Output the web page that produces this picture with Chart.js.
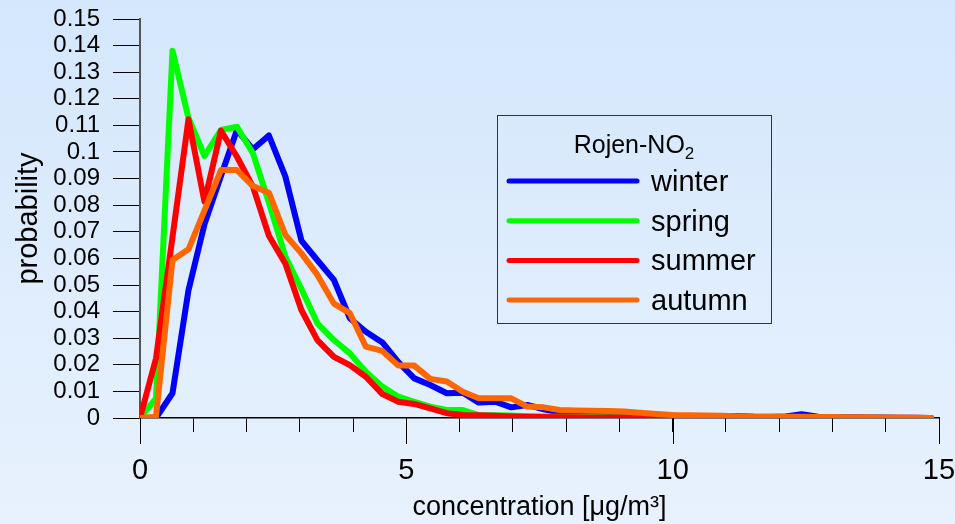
<!DOCTYPE html>
<html>
<head>
<meta charset="utf-8">
<script src="https://cdn.jsdelivr.net/npm/chart.js@4.4.1/dist/chart.umd.min.js"></script>
<style>
  body { margin: 0; background: #e4f0fd; }
  canvas { display: block; }
</style>
</head>
<body>
<canvas id="myChart" width="955" height="524"></canvas>
<script>
const ctx = document.getElementById('myChart');

// concentration bins [µg/m3]
const conc = [0, 0.30, 0.61, 0.91, 1.21, 1.52, 1.82, 2.12, 2.42, 2.73,
  3.03, 3.33, 3.64, 3.94, 4.24, 4.55, 4.85, 5.15, 5.45, 5.76,
  6.06, 6.36, 6.67, 6.97, 7.27, 7.58, 7.88, 8.18, 8.48, 8.79,
  9.09, 9.39, 9.70, 10.00, 10.30, 10.61, 10.91, 11.21, 11.52, 11.82,
  12.12, 12.42, 12.73, 13.03, 13.33, 13.64, 13.94, 14.24, 14.55, 14.85];

const winter = [0, 0, 0.0093, 0.048, 0.0728, 0.091, 0.1083, 0.101, 0.1062, 0.0907,
  0.0667, 0.0593, 0.0519, 0.0375, 0.0324, 0.0284, 0.021, 0.0149, 0.0124, 0.0093,
  0.0095, 0.0058, 0.0061, 0.004, 0.0049, 0.0033, 0.002, 0.0016, 0.0014, 0.0012,
  0.001, 0.0009, 0.0008, 0.0008, 0.0006, 0.0006, 0.0005, 0.0008, 0.0005, 0.0004,
  0.0006, 0.0014, 0.0005, 0.0003, 0.0003, 0.0002, 0.0002, 0.0001, 0.0001, 0];

const spring = [0, 0.0074, 0.1381, 0.1128, 0.0985, 0.1083, 0.1095, 0.0995, 0.081, 0.0606,
  0.0485, 0.0356, 0.0293, 0.0243, 0.0174, 0.0118, 0.008, 0.0061, 0.0043, 0.003,
  0.003, 0.0011, 0.001, 0.0009, 0.0007, 0.0006, 0.0005, 0.0004, 0.0004, 0.0003,
  0.0003, 0.0002, 0.0002, 0.0002, 0.0001, 0.0001, 0.0001, 0.0001, 0.0001, 0,
  0, 0, 0, 0, 0, 0, 0, 0, 0, 0];

const summer = [0, 0.0224, 0.068, 0.1123, 0.0813, 0.108, 0.0982, 0.087, 0.0685, 0.058,
  0.0406, 0.0293, 0.023, 0.0199, 0.0155, 0.009, 0.0061, 0.0053, 0.0036, 0.0018,
  0.0011, 0.001, 0.0008, 0.0006, 0.0005, 0.0004, 0.0003, 0.0003, 0.0002, 0.0002,
  0.0002, 0.0001, 0.0001, 0.0001, 0.0001, 0, 0, 0, 0, 0,
  0, 0, 0, 0, 0, 0, 0, 0, 0, 0];

const autumn = [0, 0.0005, 0.0594, 0.0634, 0.078, 0.0932, 0.0932, 0.0872, 0.0847, 0.0688,
  0.0619, 0.0538, 0.043, 0.0394, 0.0268, 0.0252, 0.0197, 0.0197, 0.0147, 0.0137,
  0.0099, 0.0074, 0.0074, 0.0074, 0.0043, 0.004, 0.003, 0.0028, 0.0027, 0.0026,
  0.0024, 0.002, 0.0015, 0.0011, 0.001, 0.0009, 0.0008, 0.0007, 0.0006, 0.0006,
  0.0005, 0.0005, 0.0004, 0.0004, 0.0003, 0.0003, 0.0002, 0.0002, 0.0001, 0];

const seasons = ['winter', 'spring', 'summer', 'autumn'];
const colors = ['#0000ff', '#00ff00', '#ff0000', '#ff6600'];
const xTicks = [0, 5, 10, 15];
const yTicks = ['0', '0.01', '0.02', '0.03', '0.04', '0.05', '0.06', '0.07',
  '0.08', '0.09', '0.1', '0.11', '0.12', '0.13', '0.14', '0.15'];
const legendTitle = 'Rojen-NO';

const FONT = "'Liberation Sans', Arial, sans-serif";

const toPoints = arr => arr.map((v, i) => ({x: conc[i], y: v}));

const background = {
    id: 'background',
    beforeDraw(chart) {
        const c = chart.ctx;
        const g = c.createLinearGradient(0, 0, 0, chart.height);
        g.addColorStop(0, '#d4e7fc');
        g.addColorStop(1, '#e8f2fe');
        c.save();
        c.fillStyle = g;
        c.fillRect(0, 0, chart.width, chart.height);
        c.restore();
    }
};

// longer tick marks for the labelled x values
const majorTicks = {
    id: 'majorTicks',
    afterDraw(chart) {
        const c = chart.ctx;
        const x = chart.scales.x;
        const b = chart.chartArea.bottom;
        c.save();
        c.strokeStyle = '#000';
        c.lineWidth = 1;
        xTicks.forEach(v => {
            const px = Math.round(x.getPixelForValue(v)) + 0.5;
            c.beginPath();
            c.moveTo(px, b);
            c.lineTo(px, b + 26);
            c.stroke();
        });
        c.restore();
    }
};

const legendBox = {
    id: 'legendBox',
    afterDraw(chart) {
        const c = chart.ctx;
        c.save();
        c.strokeStyle = '#333';
        c.lineWidth = 1;
        c.strokeRect(497.5, 115.5, 274, 208);

        c.fillStyle = '#000';
        c.textBaseline = 'alphabetic';
        c.font = '25px ' + FONT;
        const w1 = c.measureText(legendTitle).width;
        c.font = '17px ' + FONT;
        const w2 = c.measureText('2').width;
        const tx = 634 - (w1 + w2) / 2;
        c.font = '25px ' + FONT;
        c.fillText(legendTitle, tx, 153);
        c.font = '17px ' + FONT;
        c.fillText('2', tx + w1, 159);

        chart.data.datasets.forEach((ds, i) => {
            const y = 181 + i * 39.7;
            c.strokeStyle = ds.borderColor;
            c.lineWidth = 5;
            c.lineCap = 'round';
            c.beginPath();
            c.moveTo(509, y);
            c.lineTo(637, y);
            c.stroke();
            c.font = '29px ' + FONT;
            c.fillText(ds.label, 651, y + 10);
        });
        c.restore();
    }
};

new Chart(ctx, {
    type: 'line',
    data: {
        datasets: [winter, spring, summer, autumn].map((arr, i) => ({
            label: seasons[i],
            data: toPoints(arr),
            borderColor: colors[i],
            borderWidth: 6,
            borderJoinStyle: 'round',
            borderCapStyle: 'round',
            pointRadius: 0,
            tension: 0,
            fill: false,
            order: 4 - i
        }))
    },
    options: {
        responsive: false,
        animation: false,
        devicePixelRatio: 1,
        layout: { padding: { top: 19, right: 16, left: 0, bottom: 0 } },
        plugins: {
            legend: { display: false },
            tooltip: { enabled: false }
        },
        scales: {
            x: {
                type: 'linear',
                min: 0,
                max: 15,
                afterFit: s => {
                    s.height = 106;
                    s.paddingLeft = 0;
                    s.paddingRight = 0;
                },
                ticks: {
                    stepSize: 1,
                    autoSkip: false,
                    maxRotation: 0,
                    padding: 22,
                    color: '#000',
                    font: { family: FONT, size: 29 },
                    callback: v => xTicks.includes(v) ? String(v) : ''
                },
                grid: { drawOnChartArea: false, tickLength: 14, tickColor: '#000', tickWidth: 1 },
                border: { color: '#000', width: 1.5 },
                title: {
                    display: true,
                    text: 'concentration [\u03bcg/m\u00b3]',
                    color: '#000',
                    font: { family: FONT, size: 27, lineHeight: 1 },
                    padding: { top: 0, bottom: 3 }
                }
            },
            y: {
                min: 0,
                max: 0.15,
                afterFit: s => {
                    s.width = 140;
                    s.paddingTop = 0;
                    s.paddingBottom = 0;
                },
                ticks: {
                    stepSize: 0.01,
                    autoSkip: false,
                    padding: 13,
                    color: '#000',
                    font: { family: FONT, size: 24 },
                    callback: v => yTicks[Math.round(v * 100)]
                },
                grid: { drawOnChartArea: false, tickLength: 27, tickColor: '#000', tickWidth: 1 },
                border: { color: '#555', width: 2 },
                title: {
                    display: true,
                    text: 'probability',
                    color: '#000',
                    font: { family: FONT, size: 29, lineHeight: 1 },
                    padding: { top: 14, bottom: 0 }
                }
            }
        }
    },
    plugins: [background, majorTicks, legendBox]
});
</script>
</body>
</html>
